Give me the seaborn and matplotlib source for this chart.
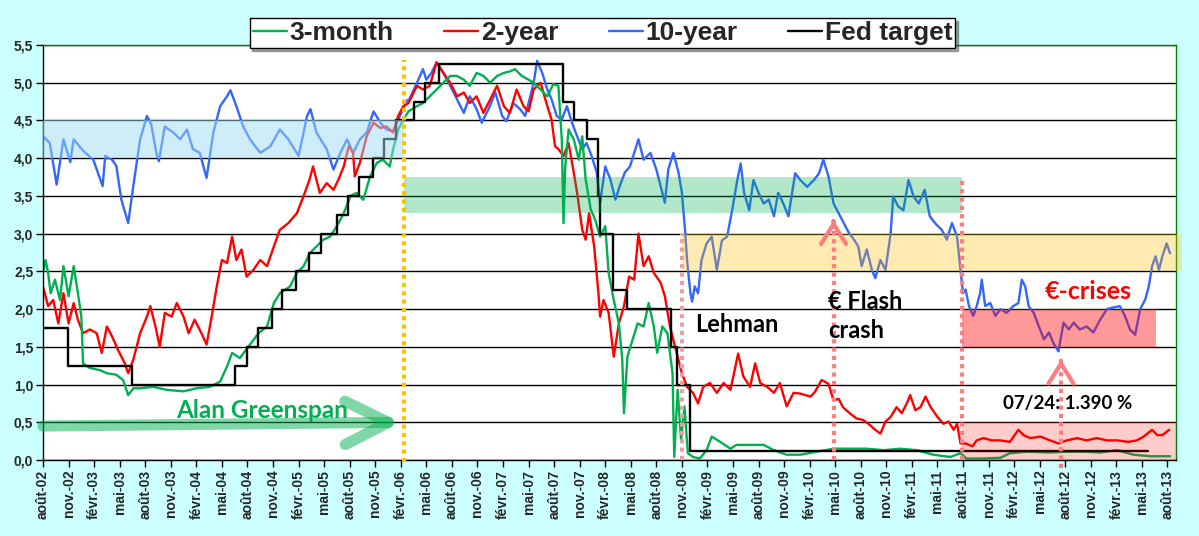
import matplotlib
matplotlib.use("Agg")
import matplotlib.pyplot as plt
import seaborn as sns

# Time axis = months since août-02 (%)
ten_m = [0, 0.8, 1.6, 2.4, 3.2, 3.6, 4.7, 5.9, 7.0, 7.3, 8.1, 8.6, 9.2, 10.0, 10.6, 11.4,
         12.2, 12.7, 13.3, 13.6, 14.3, 15.3, 16.1, 16.9, 17.6, 18.4, 19.2, 20.0, 20.8, 21.6,
         22.0, 22.7, 23.5, 24.3, 25.5, 26.7, 27.8, 28.8, 30.0, 31.0, 31.4, 32.1, 33.3, 34.1,
         34.9, 35.7, 36.4, 37.2, 38.0, 38.8, 39.6, 40.3, 41.1, 41.9, 42.7, 43.0, 43.9, 44.6,
         45.0, 45.6, 46.2, 47.0, 47.8, 48.6, 49.4, 50.1, 50.9, 51.5, 52.3, 53.1, 53.9, 54.4,
         55.2, 56.0, 56.6, 57.0, 57.6, 58.0, 58.6, 59.2, 59.7, 60.3, 60.9, 61.5, 62.1, 62.7,
         63.3, 63.8, 64.4, 65.0, 65.4, 66.0, 66.6, 67.2, 67.7, 68.3, 68.9, 69.9, 70.5, 71.3,
         72.0, 73.0, 73.4, 74.0, 74.6, 75.0, 75.4, 75.6, 76.0, 76.2, 76.5, 76.9, 77.3, 77.9,
         78.5, 79.1, 79.7, 80.3, 80.9, 81.5, 81.9, 82.3, 82.9, 83.4, 84.0, 84.6, 85.2, 85.8,
         86.3, 86.9, 87.5, 88.3, 88.9, 89.7, 90.5, 91.1, 91.6, 92.2, 92.8, 93.4, 94.0, 94.6,
         95.2, 95.7, 96.1, 96.7, 97.3, 97.7, 98.3, 98.9, 99.5, 99.8, 100.4, 101.0, 101.6,
         102.2, 102.8, 103.5, 104.1, 104.7, 105.5, 106.1, 106.7, 107.3, 107.7, 108.0, 108.3,
         108.7, 109.2, 109.6, 110.0, 110.2, 110.6, 111.2, 111.8, 112.4, 113.1, 113.9, 114.5,
         114.9, 115.3, 115.7, 116.3, 116.9, 117.5, 118.1, 118.6, 119.2, 119.8, 120.4, 121.0,
         121.7, 122.5, 123.3, 124.1, 124.9, 125.6, 126.4, 127.0, 127.6, 128.2, 128.8, 129.4,
         129.8, 130.2, 130.6, 131.0, 131.4, 131.9, 132.3]
ten_v = [4.29, 4.2, 3.65, 4.25, 3.95, 4.25, 4.1, 3.98, 3.63, 4.03, 3.98, 3.9, 3.45, 3.14, 3.63, 4.25,
         4.56, 4.45, 4.07, 3.96, 4.42, 4.34, 4.25, 4.38, 4.12, 4.07, 3.74, 4.34, 4.69, 4.82,
         4.9, 4.69, 4.42, 4.25, 4.07, 4.16, 4.38, 4.25, 4.03, 4.56, 4.65, 4.34, 4.12, 3.85,
         4.07, 4.25, 4.07, 4.25, 4.34, 4.62, 4.47, 4.38, 4.36, 4.56, 4.76, 4.78, 5.0, 5.18,
         5.04, 5.13, 5.27, 5.13, 4.96, 4.78, 4.6, 4.82, 4.65, 4.47, 4.65, 4.87, 4.56, 4.49,
         4.73, 4.65, 4.56, 4.73, 5.0, 5.29, 5.13, 4.91, 4.78, 4.56, 4.51, 4.69, 4.47, 4.29,
         4.12, 4.2, 4.03, 3.81, 3.41, 3.89, 3.72, 3.45, 3.63, 3.81, 3.89, 4.25, 3.98, 4.07,
         3.85, 3.41, 3.85, 4.07, 3.81, 3.54, 3.0, 2.65, 2.21, 2.1, 2.3, 2.21, 2.65, 2.87,
         2.96, 2.52, 2.91, 2.96, 3.31, 3.71, 3.93, 3.54, 3.31, 3.71, 3.54, 3.4, 3.45, 3.23,
         3.54, 3.4, 3.23, 3.8, 3.71, 3.62, 3.71, 3.8, 3.98, 3.76, 3.4, 3.27, 3.14, 3.01,
         2.92, 2.83, 2.57, 2.79, 2.52, 2.41, 2.65, 2.52, 3.0, 3.49, 3.36, 3.31, 3.71,
         3.49, 3.4, 3.58, 3.23, 3.14, 3.05, 2.92, 3.14, 2.96, 2.52, 2.21, 2.26,
         2.04, 1.91, 2.04, 2.21, 2.39, 2.04, 2.08, 1.91, 2.0, 1.95, 2.04, 2.08,
         2.39, 2.3, 2.04, 1.95, 1.77, 1.6, 1.69, 1.55, 1.44, 1.82, 1.73, 1.82,
         1.73, 1.77, 1.69, 1.86, 2.0, 2.02, 2.04, 1.91, 1.73, 1.66, 2.0, 2.13,
         2.3, 2.57, 2.7, 2.52, 2.7, 2.87, 2.74]

two_m = [0, 0.6, 1.2, 1.8, 2.4, 3.0, 3.6, 4.1, 4.7, 5.5, 6.3, 6.9, 7.5, 8.1, 8.8, 9.6, 10.0,
         10.6, 11.4, 12.2, 12.6, 13.2, 13.7, 14.3, 15.1, 15.7, 16.5, 17.1, 17.8, 18.6, 19.2,
         19.8, 20.4, 21.0, 21.6, 22.2, 22.7, 23.3, 23.9, 24.7, 25.5, 26.3, 27.1, 27.8, 28.8,
         29.8, 30.6, 31.3, 31.7, 32.5, 33.3, 34.1, 34.7, 35.3, 35.9, 36.4, 36.6, 37.2, 38.0,
         38.8, 39.6, 40.3, 41.1, 41.7, 42.3, 42.9, 43.9, 44.6, 45.4, 46.2, 47.0, 47.8, 48.6,
         49.4, 50.1, 50.9, 51.7, 52.5, 53.3, 54.1, 54.8, 55.6, 56.4, 57.0, 57.6, 58.4, 59.2,
         59.7, 60.1, 60.5, 61.1, 61.7, 62.3, 62.7, 63.3, 63.7, 64.1, 64.7, 65.2, 65.4, 65.8,
         66.4, 67.0, 67.6, 68.2, 68.8, 69.4, 69.9, 70.5, 71.1, 71.7, 72.5, 73.0, 73.6, 74.2,
         75.0, 75.6, 76.3, 76.9, 77.5, 78.3, 79.1, 79.9, 80.7, 81.6, 82.2, 83.0, 83.6, 84.2,
         85.0, 85.8, 86.5, 87.3, 88.1, 88.9, 90.1, 90.6, 91.4, 92.2, 92.8, 93.4, 93.9, 94.7,
         95.5, 96.3, 97.1, 97.7, 98.3, 98.9, 99.5, 100.2, 100.8, 101.4, 101.8, 102.4, 103.0,
         103.6, 104.2, 105.0, 105.7, 106.3, 106.9, 107.3, 107.7, 108.3, 109.1, 109.6, 110.4,
         111.4, 112.4, 113.5, 114.5, 115.1, 115.9, 117.1, 118.2, 119.2, 120.2, 121.4, 122.5,
         123.7, 124.9, 126.1, 127.4, 128.4, 129.2, 130.2, 130.8, 131.4, 132.2]
two_v = [2.3, 2.04, 2.12, 1.81, 2.21, 1.81, 2.08, 1.86, 1.68, 1.73, 1.68, 1.42, 1.77, 1.64, 1.46, 1.28, 1.15,
         1.33, 1.68, 1.9, 2.04, 1.77, 1.5, 1.95, 1.9, 2.08, 1.9, 1.68, 1.86, 1.68, 1.53,
         1.9, 2.3, 2.65, 2.61, 2.96, 2.65, 2.79, 2.43, 2.52, 2.65, 2.57, 2.83, 3.05, 3.14,
         3.27, 3.5, 3.72, 3.89, 3.54, 3.67, 3.58, 3.72, 3.89, 4.16, 4.07, 3.76, 3.94, 4.29,
         4.47, 4.4, 4.42, 4.34, 4.56, 4.69, 4.73, 4.96, 4.91, 4.96, 5.27, 5.13, 5.0, 4.82,
         4.87, 4.73, 4.82, 4.6, 4.78, 4.96, 4.69, 4.6, 4.91, 4.69, 4.62, 4.91, 5.0, 4.69,
         4.51, 4.16, 4.12, 4.03, 4.2, 3.81, 3.54, 3.05, 2.92, 3.27, 2.83, 2.21, 1.9, 2.12,
         1.95, 1.37, 1.81, 2.04, 2.43, 2.39, 3.0, 2.57, 2.7, 2.48, 2.35, 2.17, 1.77, 1.5,
         1.15, 0.97, 0.89, 0.75, 0.97, 1.02, 0.89, 1.02, 0.93, 1.41, 1.11, 0.97, 1.28, 1.02,
         0.97, 0.89, 1.02, 0.71, 0.89, 0.88, 0.84, 0.9, 1.06, 1.01, 0.79, 0.81, 0.7, 0.62,
         0.55, 0.53, 0.46, 0.4, 0.35, 0.51, 0.57, 0.7, 0.62, 0.75, 0.86, 0.66, 0.7,
         0.84, 0.7, 0.57, 0.48, 0.51, 0.4, 0.48, 0.22, 0.22, 0.18, 0.26, 0.29,
         0.26, 0.26, 0.24, 0.4, 0.33, 0.29, 0.31, 0.26, 0.22, 0.26, 0.29, 0.26,
         0.29, 0.26, 0.26, 0.24, 0.26, 0.31, 0.4, 0.33, 0.33, 0.4]

three_m = [0, 0.3, 0.6, 0.9, 1.4, 2.0, 2.4, 3.0, 3.6, 4.1, 4.5, 4.7, 5.5, 6.7, 7.5, 8.6, 9.4,
           10.0, 10.6, 11.4, 12.9, 14.5, 16.5, 18.0, 19.6, 20.8, 21.6, 22.2, 23.1, 24.1, 25.3,
           26.3, 27.1, 27.8, 29.0, 29.8, 30.6, 31.3, 32.1, 32.9, 33.7, 34.5, 35.3, 36.1, 36.8,
           37.6, 38.4, 39.2, 39.9, 40.7, 41.1, 41.7, 42.3, 42.9, 43.9, 44.6, 45.4, 46.2, 47.0,
           47.8, 48.6, 49.4, 50.1, 50.9, 51.7, 52.5, 53.3, 54.1, 54.8, 55.4, 56.2, 57.0, 57.6,
           58.4, 59.2, 59.9, 60.5, 60.9, 61.1, 61.3, 61.7, 62.3, 62.9, 63.3, 63.7, 64.3, 64.8,
           65.4, 66.0, 66.4, 67.0, 67.6, 68.0, 68.2, 68.6, 69.2, 69.8, 70.5, 71.1, 71.7, 72.1,
           72.7, 73.3, 73.9, 74.1, 74.5, 74.9, 75.3, 75.7, 76.3, 77.1, 77.9, 78.5, 79.5, 80.7,
           81.4, 83.0, 84.6, 85.8, 87.3, 88.9, 90.8, 92.8, 94.7, 96.7, 98.7, 100.6, 102.6,
           104.5, 106.5, 107.7, 108.4, 110.4, 112.4, 113.5, 115.5, 118.2, 120.2, 122.2, 124.1,
           126.1, 128.0, 130.0, 132.3]
three_v = [2.48, 2.65, 2.48, 2.21, 2.39, 2.12, 2.57, 2.17, 2.57, 2.21, 1.9, 1.28, 1.22, 1.19, 1.15, 1.13, 1.06,
           0.86, 0.95, 0.95, 0.97, 0.93, 0.91, 0.95, 0.97, 1.04, 1.24, 1.42, 1.35, 1.5, 1.68,
           1.77, 2.08, 2.21, 2.3, 2.48, 2.57, 2.74, 2.83, 2.92, 2.96, 3.1, 3.27, 3.5, 3.54,
           3.45, 3.76, 3.94, 3.98, 3.89, 4.12, 4.38, 4.51, 4.62, 4.69, 4.73, 4.82, 4.91, 5.0,
           5.09, 5.09, 5.04, 4.96, 5.13, 5.09, 5.0, 5.09, 5.13, 5.15, 5.18, 5.09, 5.04, 5.0,
           4.91, 4.82, 4.98, 4.96, 4.25, 3.14, 3.89, 4.38, 4.25, 3.98, 4.29, 3.72, 3.32, 3.19,
           2.96, 3.1, 2.48, 2.12, 1.81, 1.33, 0.62, 1.37, 1.59, 1.81, 1.77, 2.08, 1.77, 1.42,
           1.77, 1.68, 1.15, 0.04, 0.93, 0.27, 0.71, 0.09, 0.04, 0.02, 0.13, 0.31, 0.24, 0.15,
           0.2, 0.2, 0.2, 0.13, 0.07, 0.07, 0.11, 0.15, 0.15, 0.15, 0.13, 0.15, 0.13,
           0.07, 0.04, 0.09, 0.02, 0.02, 0.03, 0.09, 0.11, 0.1, 0.11, 0.11, 0.1,
           0.13, 0.07, 0.05, 0.05]

# Fed funds target: month where each level starts, last entry = end of series
fed_m = [0, 2.9, 10.4, 22.5, 23.9, 25.2, 26.9, 28.0, 29.7, 31.2, 32.6, 34.5, 35.8, 37.1, 38.7,
         40.0, 41.4, 43.5, 44.9, 46.5, 61.0, 62.3, 63.9, 65.2, 65.4, 66.9, 68.5, 73.7, 74.4,
         76.0, 129.7]
fed_v = [1.75, 1.25, 1.0, 1.25, 1.5, 1.75, 2.0, 2.25, 2.5, 2.75, 3.0, 3.25, 3.5, 3.75, 4.0,
         4.25, 4.5, 4.75, 5.0, 5.25, 4.75, 4.5, 4.25, 3.5, 3.0, 2.25, 2.0, 1.5, 1.0,
         0.125, 0.125]

months_fr = ["août", "nov.", "févr.", "mai"]
tick_labels = []
for i in range(45):
    yy = 2 + (i + 2) // 4
    tick_labels.append(f"{months_fr[i % 4]}-{yy:02d}")

GREEN = "#00B050"
RED = "#FF0000"
BLUE = "#3366FF"

sns.set_theme(style="white")
plt.rcParams["font.family"] = ["Liberation Sans", "DejaVu Sans"]

fig = plt.figure(figsize=(11.99, 5.36), dpi=100, facecolor="#CCFFFF")
ax = fig.add_axes([43 / 1199, 1 - 460 / 536, 1133 / 1199, 415 / 536])
ax.set_facecolor("white")

sns.lineplot(x=ten_m, y=ten_v, ax=ax, color=BLUE, lw=1.7, label="10-year", estimator=None)
sns.lineplot(x=two_m, y=two_v, ax=ax, color=RED, lw=1.7, label="2-year", estimator=None)
sns.lineplot(x=three_m, y=three_v, ax=ax, color=GREEN, lw=1.7, label="3-month", estimator=None)
sns.lineplot(x=fed_m, y=fed_v, ax=ax, color="black", lw=1.7, label="Fed target",
             estimator=None, drawstyle="steps-post")

# shaded ranges
bands = [
    (0, 42.4, 4.0, 4.5, "#9FDCF5", 0.5),
    (42.4, 107.9, 3.28, 3.75, GREEN, 0.3),
    (75.0, 133.7, 2.5, 3.0, "#FFC000", 0.3),
    (107.9, 130.6, 1.5, 2.0, RED, 0.4),
    (107.9, 133.0, 0.0, 0.5, RED, 0.2),
]
for x0, x1, y0, y1, c, a in bands:
    ax.fill_between([x0, x1], y0, y1, color=c, alpha=a, lw=0, zorder=4, clip_on=False)

# event markers
dot = (0, (1, 1))
ax.plot([42.4, 42.4], [-0.03, 5.3], color="#FFC000", lw=3, ls=dot, zorder=5, clip_on=False)
ax.plot([75.0, 75.0], [0, 3.0], color="#E8A0A0", lw=3, ls=dot, zorder=5)
ax.plot([92.8, 92.8], [0, 3.15], color="#FF7C80", lw=3, ls=dot, zorder=5)
ax.plot([107.9, 107.9], [0, 3.75], color="#FF7C80", lw=3, ls=dot, zorder=5)
ax.plot([119.5, 119.5], [-0.11, 1.3], color="#FF7C80", lw=3, ls=dot, zorder=5, clip_on=False)
for xa, ya in [(92.8, 3.18), (119.5, 1.33)]:
    ax.annotate("", xy=(xa, ya), xytext=(xa, ya - 0.02),
                arrowprops=dict(arrowstyle="->,head_length=0.8,head_width=0.5", lw=3,
                                color="#FF7C80", mutation_scale=18, shrinkA=0, shrinkB=0),
                zorder=6)

ax.annotate("", xy=(42.0, 0.5), xytext=(0, 0.45),
            arrowprops=dict(arrowstyle="->,head_length=1.3,head_width=0.65", lw=8,
                            color=GREEN, alpha=0.5, mutation_scale=24, shrinkA=0, shrinkB=0,
                            capstyle="round", joinstyle="round"),
            zorder=6)

tfont = ["Lato", "DejaVu Sans"]
ax.text(25.7, 0.66, "Alan Greenspan", color=GREEN, fontsize=17.5, fontweight="bold",
        family=tfont, ha="center", va="center", zorder=7)
ax.text(76.6, 1.79, "Lehman", color="black", fontsize=17, fontweight="bold",
        family=tfont, ha="left", va="center", zorder=7)
ax.text(92.2, 1.91, "€ Flash\ncrash", color="black", fontsize=17, fontweight="bold",
        family=tfont, ha="left", va="center", linespacing=1.35, zorder=7)
ax.text(117.6, 2.23, "€-crises", color=RED, fontsize=18, fontweight="bold",
        family=tfont, ha="left", va="center", zorder=7)
ax.text(112.7, 0.755, "07/24: 1.390 %", color="black", fontsize=13.5, fontweight="bold",
        family=tfont, ha="left", va="center", zorder=7)

# axes
ax.set_xlim(0, 133)
ax.set_ylim(0, 5.5)
yt = [i * 0.5 for i in range(12)]
ax.set_yticks(yt)
ax.set_yticklabels([f"{v:.1f}".replace(".", ",") for v in yt], fontsize=10, fontweight="bold")
ax.set_xticks([3 * i for i in range(45)])
ax.set_xticklabels(tick_labels, rotation=90, fontsize=10, fontweight="bold")
ax.tick_params(axis="both", direction="out", length=5, width=1, color="black",
               bottom=True, left=True, pad=2)
ax.yaxis.grid(True, color="black", lw=1)
ax.xaxis.grid(False)
ax.set_axisbelow(True)
ax.set_xlabel("")
ax.set_ylabel("")
for s in ["left", "bottom"]:
    ax.spines[s].set_color("black")
for s in ["top", "right"]:
    ax.spines[s].set_color("#008000")
for s in ax.spines.values():
    s.set_linewidth(1)

handles, labels = ax.get_legend_handles_labels()
order = [labels.index(n) for n in ["3-month", "2-year", "10-year", "Fed target"]]
ax.legend([handles[i] for i in order], [labels[i] for i in order],
          loc="center", bbox_to_anchor=(0.5025, 0.938), bbox_transform=fig.transFigure,
          ncol=4, frameon=True, fancybox=False, shadow=True, edgecolor="black",
          prop={"weight": "bold", "size": 19}, handlelength=1.3, handletextpad=0.1,
          columnspacing=1.9, borderpad=0.12, framealpha=1)

fig.savefig("out.png", dpi=100, facecolor=fig.get_facecolor())
